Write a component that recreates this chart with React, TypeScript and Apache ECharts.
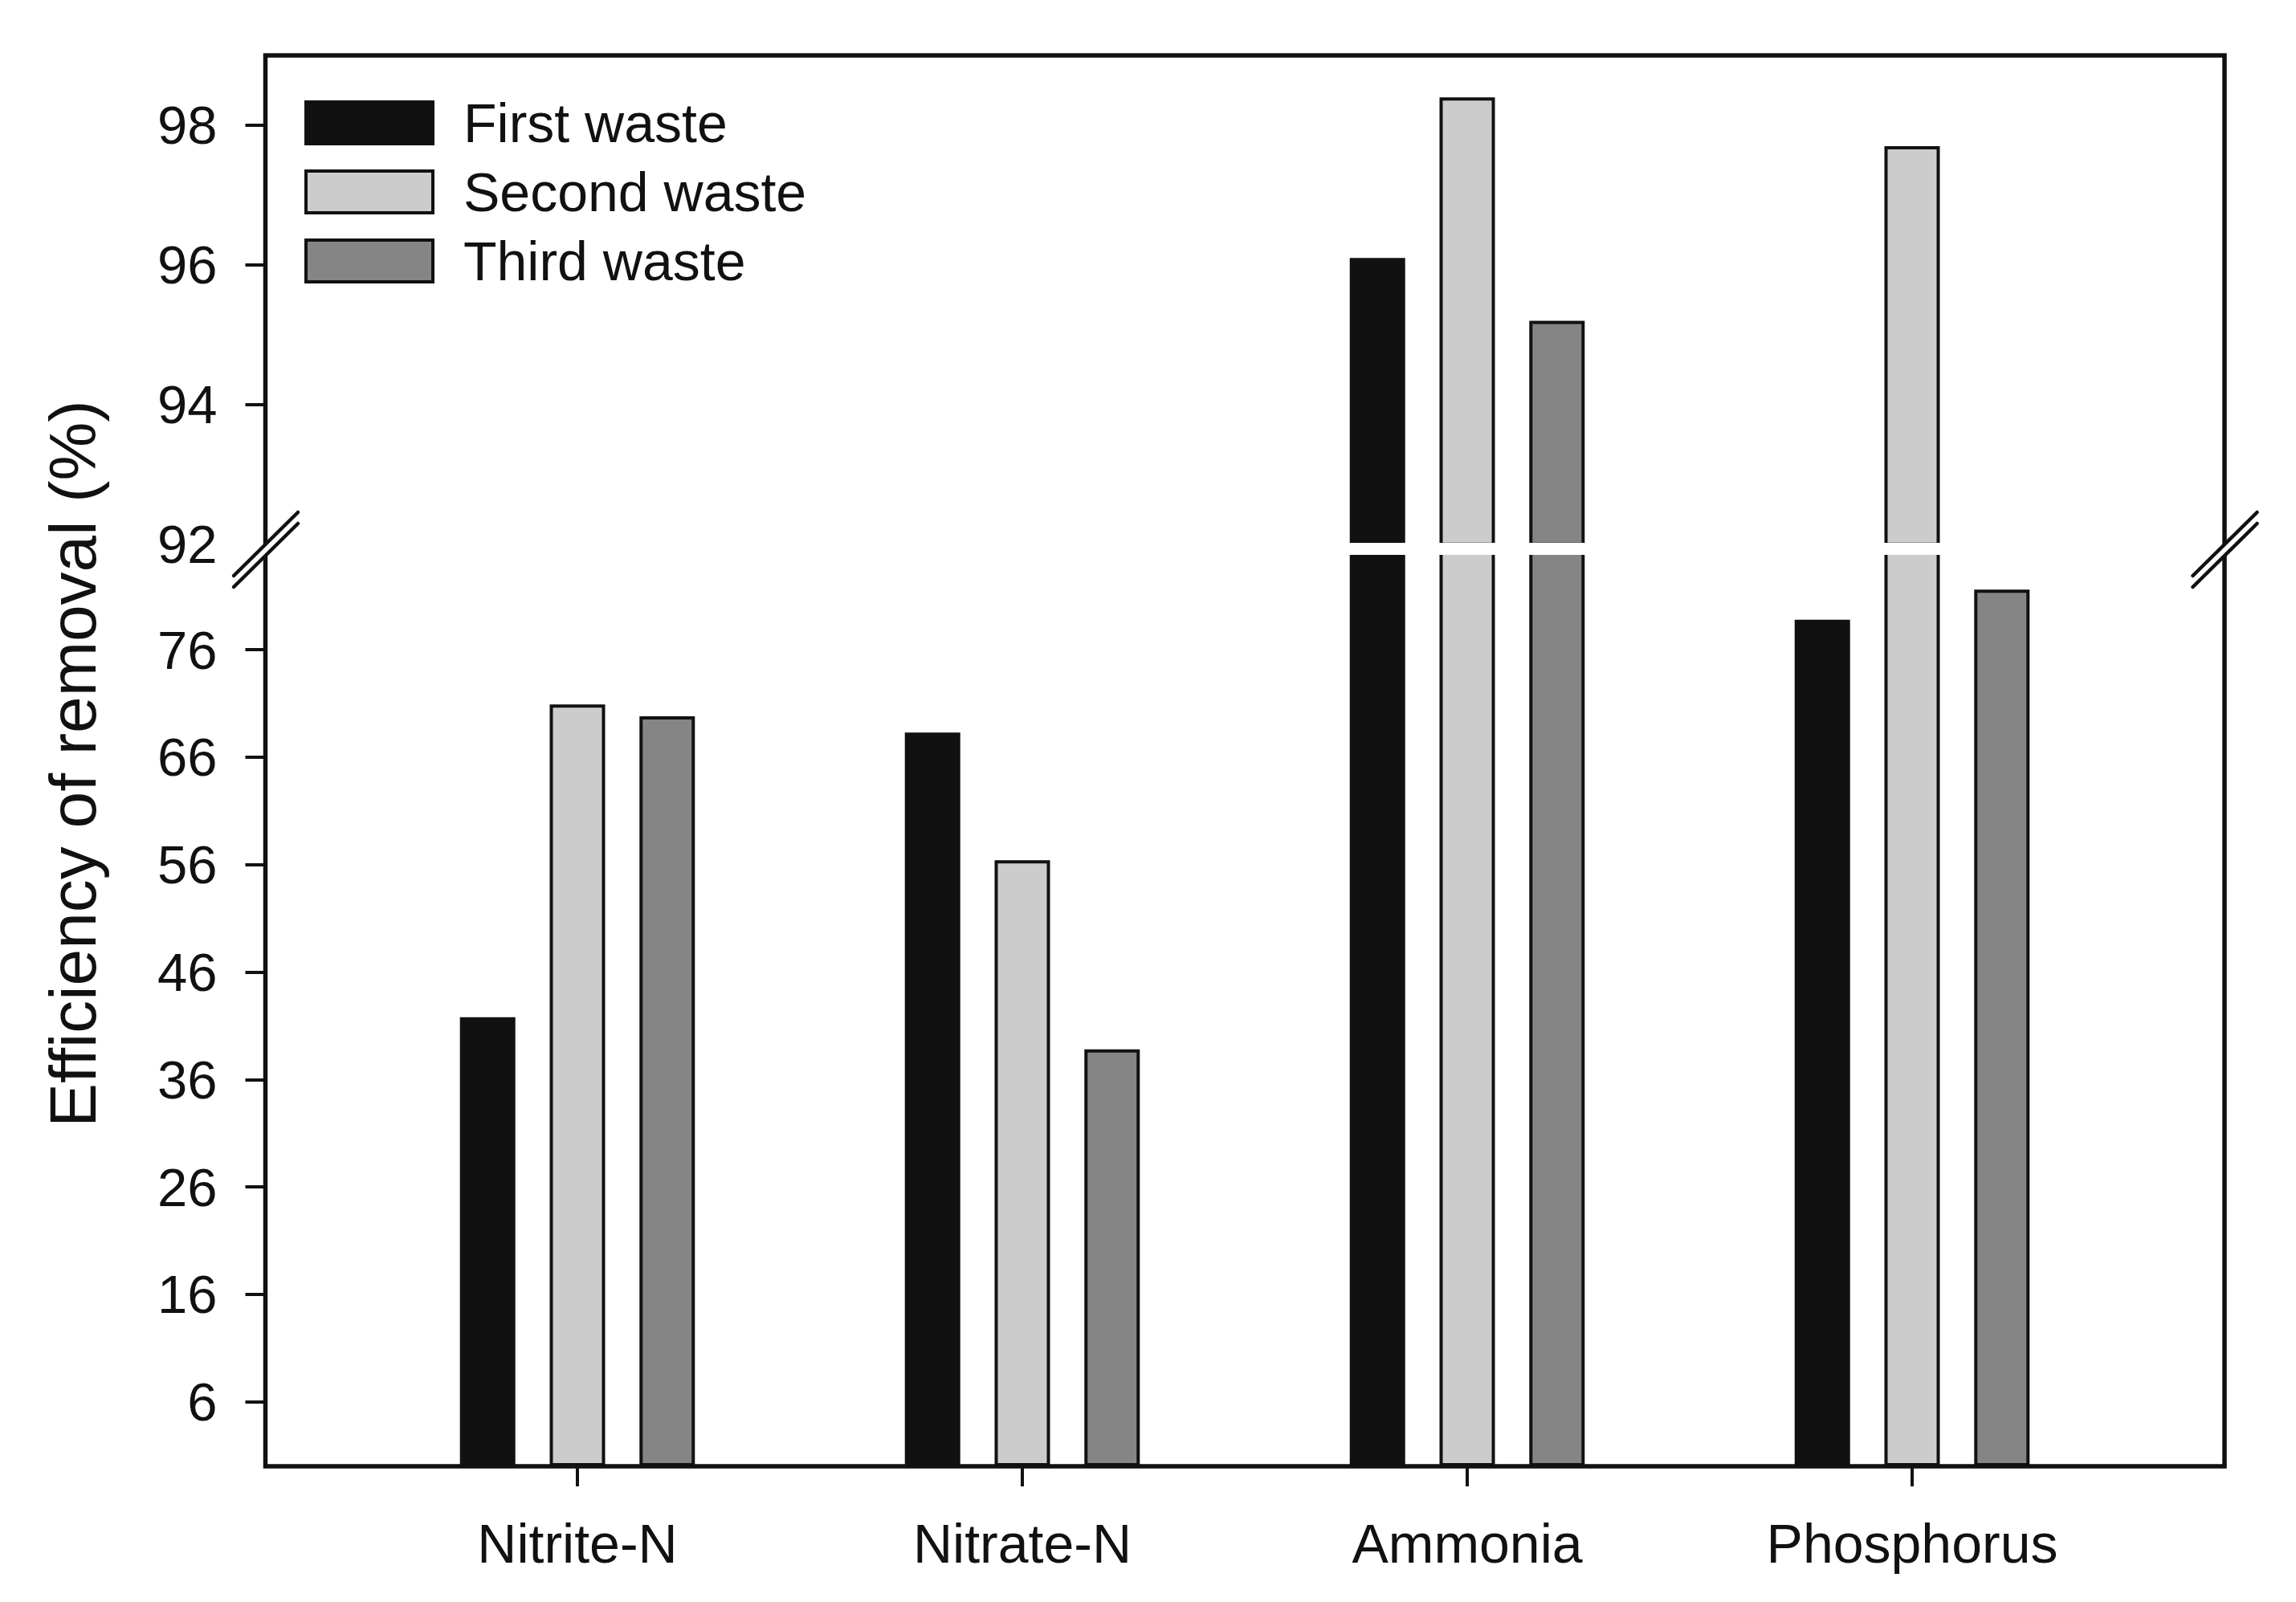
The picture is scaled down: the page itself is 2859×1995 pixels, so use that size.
import React, { useEffect, useRef } from "react";
import * as echarts from "echarts";

const categories = ["Nitrite-N", "Nitrate-N", "Ammonia", "Phosphorus"];
const seriesNames = ["First waste", "Second waste", "Third waste"];
const firstWaste = [41.8, 68.3, 96.1, 78.8];
const secondWaste = [70.9, 56.4, 98.4, 97.7];
const thirdWaste = [69.8, 38.8, 95.2, 81.6];
const lowerTicks = [6, 16, 26, 36, 46, 56, 66, 76];
const upperTickLabels = [92, 94, 96, 98];
const upperTickMarks = [94, 96, 98];
const lowerRange = [0, 85];
const upperRange = [92, 99];
const yTitle = "Efficiency of removal (%)";

const FONT = '"Liberation Sans", Arial, sans-serif';
const INK = "#111111";
const fills = ["#111111", "#cccccc", "#858585"];

export default function App() {
  const ref = useRef<HTMLDivElement>(null);

  useEffect(() => {
    if (!ref.current) return;
    const chart = echarts.init(ref.current, null, { renderer: "svg" });

    // layout (pixels)
    const frameL = 330.5, frameR = 2770, frameT = 69, frameB = 1826;
    const gridL = 442, gridW = 2216;
    const upperBottom = 677.7;
    const lowerTop = 688.7;
    const axisOffset = gridL - frameL;

    const all = [firstWaste, secondWaste, thirdWaste];

    const barCommon = (i: number) => ({
      type: "bar",
      name: seriesNames[i],
      barWidth: 69,
      barGap: "62%",
      itemStyle: { color: fills[i], borderColor: INK, borderWidth: 4 },
      clip: true,
    });

    const lowerSeries = all.map((vals, i) => ({
      ...barCommon(i),
      xAxisIndex: 0,
      yAxisIndex: 0,
      data: vals,
    }));
    const upperSeries = all.map((vals, i) => ({
      ...barCommon(i),
      xAxisIndex: 1,
      yAxisIndex: 1,
      data: vals.map((v) => (v >= upperRange[0] ? v : "-")),
    }));

    const yCommon = {
      type: "value",
      position: "left",
      offset: axisOffset,
      axisLine: { show: false },
      splitLine: { show: false },
      axisLabel: { fontSize: 67, color: INK, fontFamily: FONT, margin: 60 },
    };

    const breakMark = (cx: number) => {
      const dx = cx - 330.5;
      const p = (x: number, y: number) => [x + dx, y];
      return [
        {
          type: "polygon",
          z: 70,
          shape: { points: [p(291, 717), p(371, 638), p(371, 652), p(291, 731)] },
          style: { fill: "#ffffff", stroke: null },
        },
        {
          type: "line",
          z: 71,
          shape: { x1: 291 + dx, y1: 717, x2: 371 + dx, y2: 638 },
          style: { stroke: INK, lineWidth: 4.5, lineCap: "round" },
        },
        {
          type: "line",
          z: 71,
          shape: { x1: 291 + dx, y1: 731, x2: 371 + dx, y2: 652 },
          style: { stroke: INK, lineWidth: 4.5, lineCap: "round" },
        },
      ];
    };

    chart.setOption({
      animation: false,
      backgroundColor: "#ffffff",
      textStyle: { fontFamily: FONT },
      legend: {
        data: seriesNames,
        orient: "vertical",
        left: 379,
        top: 119,
        padding: 0,
        icon: "rect",
        itemWidth: 158,
        itemHeight: 52,
        itemGap: 18,
        selectedMode: false,
        itemStyle: { borderColor: INK, borderWidth: 4 },
        textStyle: {
          fontSize: 68,
          color: INK,
          fontFamily: FONT,
          padding: [0, 0, 0, 33],
        },
      },
      grid: [
        { left: gridL, width: gridW, top: lowerTop, height: frameB - lowerTop },
        { left: gridL, width: gridW, top: frameT, height: upperBottom - frameT },
      ],
      xAxis: [
        {
          type: "category",
          gridIndex: 0,
          data: categories,
          axisLine: { show: false },
          axisTick: {
            show: true,
            alignWithLabel: true,
            length: 25,
            lineStyle: { color: INK, width: 4 },
          },
          axisLabel: { fontSize: 68, color: INK, fontFamily: FONT, margin: 62 },
        },
        {
          type: "category",
          gridIndex: 1,
          data: categories,
          show: false,
        },
      ],
      yAxis: [
        {
          ...yCommon,
          gridIndex: 0,
          min: lowerRange[0],
          max: lowerRange[1],
          axisTick: {
            show: true,
            length: 25,
            lineStyle: { color: INK, width: 4 },
            customValues: lowerTicks,
          },
          axisLabel: { ...yCommon.axisLabel, customValues: lowerTicks },
        },
        {
          ...yCommon,
          gridIndex: 1,
          min: upperRange[0],
          max: upperRange[1],
          axisTick: {
            show: true,
            length: 25,
            lineStyle: { color: INK, width: 4 },
            customValues: upperTickMarks,
          },
          axisLabel: { ...yCommon.axisLabel, customValues: upperTickLabels },
        },
      ],
      series: [...lowerSeries, ...upperSeries],
      graphic: [
        {
          type: "rect",
          z: 50,
          shape: { x: frameL + 3, y: 676, width: frameR - frameL - 6, height: 15 },
          style: { fill: "#ffffff", stroke: null },
        },
        {
          type: "rect",
          z: 60,
          shape: { x: frameL, y: frameT, width: frameR - frameL, height: frameB - frameT },
          style: { fill: "none", stroke: INK, lineWidth: 5.5 },
        },
        ...breakMark(frameL),
        ...breakMark(frameR),
        {
          type: "text",
          z: 80,
          x: 90,
          y: 951,
          rotation: Math.PI / 2,
          style: {
            text: yTitle,
            font: `82px ${FONT}`,
            fill: INK,
            align: "center",
            verticalAlign: "middle",
          },
        },
      ],
    });

    return () => chart.dispose();
  }, []);

  return (
    <div
      ref={ref}
      style={{ position: "absolute", left: 0, top: 0, width: 2859, height: 1995 }}
    />
  );
}
